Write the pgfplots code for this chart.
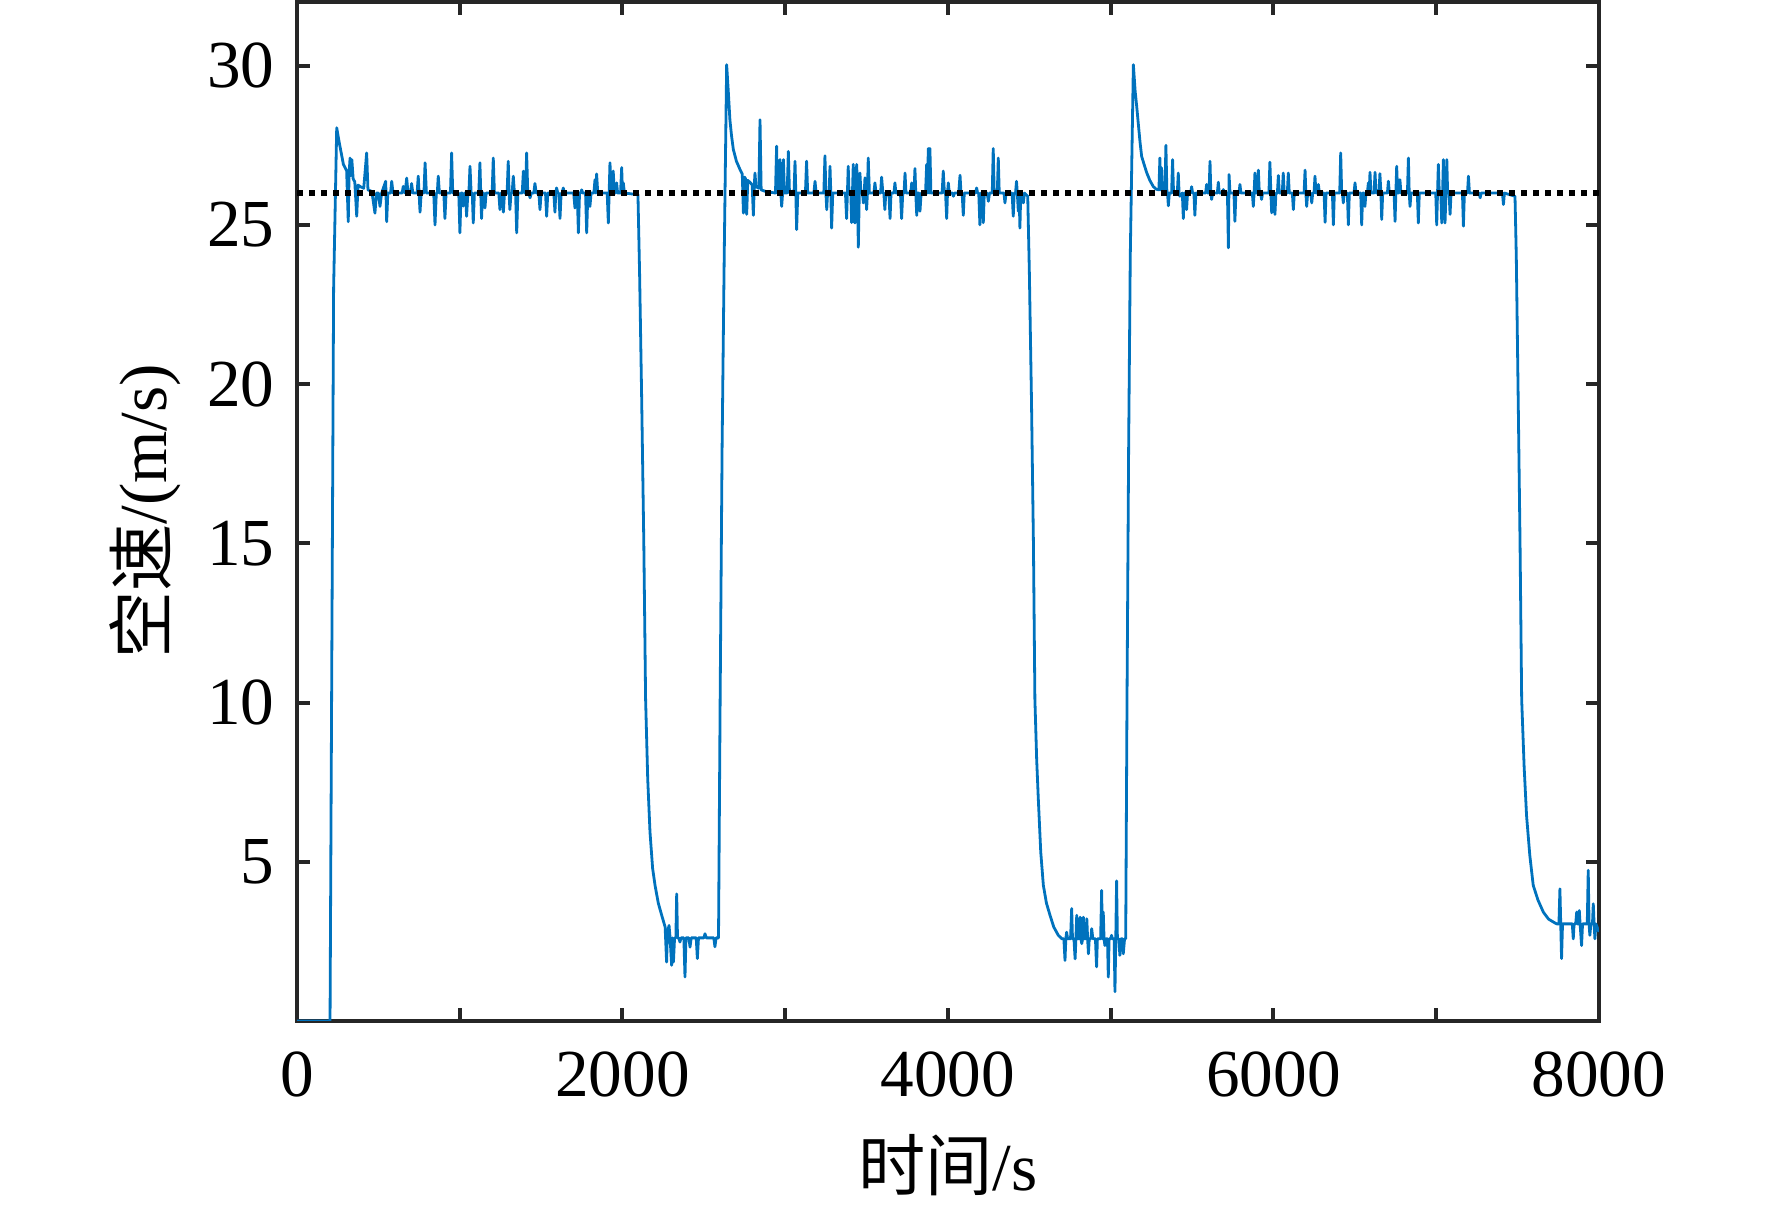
\documentclass[border=0pt]{standalone}
\usepackage{pgfplots}
\pgfplotsset{compat=1.18}
\usepackage{fontspec}
\setmainfont{Liberation Serif}
\newfontfamily\cjk{Noto Sans CJK SC}
\definecolor{mblue}{rgb}{0,0.447,0.741}
\definecolor{axgray}{rgb}{0.15,0.15,0.15}
\begin{document}
\begin{tikzpicture}
\useasboundingbox (-74.25pt,-46.25pt) rectangle (368.75pt,255.25pt);
\begin{axis}[
  scale only axis,
  width=325.5pt, height=254.75pt,
  xmin=0, xmax=8000, ymin=0, ymax=32,
  xtick={0,1000,...,8000},
  xticklabels={0,,2000,,4000,,6000,,8000},
  ytick={5,10,...,30},
  tick align=inside,
  major tick length=3.3pt,
  axis line style={axgray, line width=1pt},
  every tick/.style={axgray, line width=1pt},
  /pgf/number format/assume math mode=true,
  scaled x ticks=false,
  tick label style={font=\fontsize{16.8pt}{20pt}\selectfont, text=black},
  xticklabel style={yshift=-4.1pt},
  yticklabel style={xshift=-2.1pt},
  label style={font=\fontsize{16.8pt}{20pt}\selectfont},
  xlabel={{\cjk 时间}/s},
  ylabel={{\cjk 空速}/(m/s)},
  xlabel style={at={(axis description cs:0.5,-0.1103)}, anchor=north, inner sep=0pt},
  ylabel style={at={(axis description cs:-0.0883,0.5)}, anchor=south, inner sep=0pt},
]
\addplot[mblue, line width=0.7pt, line join=round] coordinates {
(0,0) (203,0) (225,23) (244,28.05) (259,27.6) (274,27.2) (285,26.9) (295,26.8) (305,26.7) (315,25.1) (320,26.6) (326,27.1) (331,26.55) (337,27.05) (345,26.45) (355,26.35) (367,25.27) (375,26.25) (390,26.2) (410,26.15) (428,27.26) (436,26.1) (460,26.05) (479,25.37) (488,26.0) (500,26.0) (510,25.58) (520,26.0) (545,26.37) (551,25.1) (558,26.0) (575,26.0) (582,26.37) (590,26.0) (646,26.0) (653,26.21) (664,26.0) (674,26.47) (682,26.0) (698,26.0) (704,26.3) (712,26.0) (738,26.0) (745,26.53) (750,26.0) (756,25.4) (763,26.0) (780,26.0) (787,26.95) (795,26.0) (840,26.0) (848,25.0) (856,26.0) (862,26.0) (868,26.53) (875,26.0) (902,26.0) (909,25.2) (916,26.0) (943,26.0) (950,27.26) (957,26.0) (994,26.0) (1001,24.75) (1008,26.0) (1015,26.0) (1022,25.59) (1030,26.0) (1036,26.0) (1042,25.27) (1050,26.0) (1056,26.0) (1063,26.84) (1070,26.0) (1077,26.0) (1083,25.06) (1090,26.0) (1117,26.0) (1124,26.95) (1129,26.0) (1134,25.2) (1140,26.0) (1148,26.0) (1155,25.53) (1162,26.0) (1199,26.0) (1206,27.1) (1213,26.0) (1240,26.0) (1247,25.48) (1254,26.0) (1262,26.0) (1268,25.4) (1275,26.0) (1291,26.0) (1298,27.0) (1303,26.0) (1308,25.48) (1315,26.0) (1322,26.0) (1329,26.53) (1336,26.0) (1343,26.0) (1350,24.75) (1357,26.0) (1384,26.0) (1391,26.69) (1398,26.0) (1404,26.0) (1411,27.26) (1418,26.0) (1425,26.0) (1432,25.85) (1440,26.0) (1455,26.0) (1462,26.3) (1470,26.0) (1486,26.0) (1493,25.48) (1500,26.0) (1527,26.0) (1534,25.27) (1541,26.0) (1578,26.0) (1585,25.4) (1590,26.0) (1595,26.16) (1603,26.0) (1609,26.0) (1616,25.2) (1623,26.0) (1629,26.0) (1636,26.16) (1643,26.0) (1700,26.0) (1708,25.53) (1715,26.0) (1722,26.0) (1729,24.75) (1736,26.0) (1742,26.0) (1749,26.1) (1756,26.0) (1773,26.0) (1780,24.75) (1787,26.0) (1793,26.0) (1800,25.58) (1807,26.0) (1824,26.0) (1831,26.42) (1836,26.0) (1841,26.6) (1848,26.0) (1906,26.0) (1913,25.06) (1918,26.0) (1923,26.95) (1930,26.2) (1936,26.0) (1943,26.69) (1950,26.0) (1957,26.0) (1964,26.32) (1970,26.0) (1988,26.0) (1995,26.8) (2000,26.0) (2005,26.32) (2012,26.0) (2095,25.95) (2105,23.5) (2118,19.5) (2131,15.0) (2142,10.1) (2155,7.6) (2169,5.93) (2185,4.8) (2200,4.26) (2220,3.7) (2241,3.32) (2262,2.95) (2271,1.85) (2276,2.75) (2286,3.0) (2292,2.64) (2302,1.75) (2307,2.61) (2313,1.85) (2320,2.61) (2328,2.61) (2333,3.99) (2338,2.61) (2346,2.61) (2353,2.48) (2360,2.61) (2377,2.61) (2384,1.38) (2390,2.61) (2408,2.61) (2415,2.32) (2422,2.61) (2453,2.61) (2460,1.96) (2467,2.61) (2500,2.61) (2507,2.74) (2515,2.61) (2561,2.61) (2568,2.33) (2575,2.61) (2590,2.61) (2600,10.1) (2612,18.0) (2625,24.0) (2640,30.03) (2650,29.2) (2660,28.3) (2670,27.8) (2681,27.37) (2700,27.0) (2722,26.74) (2736,26.6) (2743,25.37) (2750,26.5) (2756,26.45) (2763,25.33) (2770,26.4) (2790,26.3) (2797,26.25) (2804,25.3) (2810,26.25) (2814,26.63) (2820,26.2) (2838,26.15) (2845,28.3) (2852,26.1) (2880,26.05) (2940,26.0) (2947,27.47) (2952,26.0) (2962,26.0) (2968,27.05) (2973,26.0) (2978,25.58) (2984,26.0) (2989,27.05) (2995,26.0) (3012,26.0) (3019,27.31) (3026,26.0) (3054,26.0) (3060,27.0) (3065,26.0) (3070,24.85) (3077,26.0) (3124,26.0) (3131,27.0) (3138,26.0) (3176,26.0) (3183,26.37) (3190,26.0) (3237,26.0) (3244,27.17) (3250,26.0) (3255,25.48) (3260,26.0) (3270,26.0) (3275,26.84) (3280,26.0) (3285,24.9) (3292,26.0) (3370,26.0) (3377,25.2) (3382,26.0) (3387,26.84) (3392,26.0) (3403,26.0) (3408,25.07) (3413,26.0) (3418,26.9) (3423,26.0) (3428,25.06) (3433,26.0) (3439,26.9) (3444,26.0) (3449,24.3) (3455,26.0) (3459,26.63) (3465,26.0) (3475,26.0) (3480,25.69) (3485,26.0) (3490,26.48) (3495,26.0) (3500,25.48) (3505,26.0) (3510,27.1) (3517,26.0) (3545,26.0) (3551,26.32) (3558,26.0) (3586,26.0) (3592,26.5) (3600,26.0) (3606,26.0) (3612,25.48) (3618,26.0) (3637,26.0) (3644,25.2) (3650,26.0) (3668,26.0) (3674,26.32) (3680,26.0) (3708,26.0) (3715,25.2) (3722,26.0) (3730,26.0) (3736,26.63) (3742,26.0) (3771,26.0) (3777,26.32) (3783,26.0) (3791,26.0) (3797,26.77) (3802,26.0) (3808,25.3) (3813,26.0) (3822,26.0) (3828,25.43) (3835,26.0) (3862,26.0) (3869,26.9) (3874,26.0) (3879,27.4) (3884,26.0) (3889,27.4) (3895,26.0) (3964,26.0) (3971,26.69) (3978,26.0) (3985,26.0) (3992,25.2) (3997,26.0) (4002,26.32) (4008,26.0) (4027,26.0) (4033,25.9) (4040,26.0) (4066,26.0) (4074,26.56) (4080,26.0) (4087,26.0) (4094,25.3) (4100,26.0) (4169,26.0) (4176,26.16) (4182,26.0) (4189,26.0) (4196,25.0) (4202,26.0) (4210,26.0) (4217,25.07) (4223,26.0) (4241,26.0) (4248,25.74) (4255,26.0) (4272,26.0) (4278,27.4) (4284,26.0) (4303,26.0) (4309,27.1) (4315,26.0) (4344,26.0) (4350,25.69) (4357,26.0) (4394,26.0) (4401,25.27) (4407,26.0) (4415,26.0) (4421,26.37) (4426,26.0) (4432,25.43) (4437,26.0) (4442,24.9) (4447,26.0) (4456,26.0) (4463,25.69) (4470,26.0) (4490,25.9) (4500,23.5) (4513,19.5) (4525,15.0) (4534,10.1) (4545,8.2) (4555,6.97) (4570,5.3) (4586,4.26) (4605,3.7) (4627,3.32) (4650,2.95) (4678,2.69) (4700,2.58) (4712,2.58) (4719,1.9) (4724,2.58) (4729,2.79) (4735,2.58) (4753,2.58) (4760,3.53) (4765,2.58) (4774,2.58) (4781,1.95) (4786,2.58) (4791,3.32) (4797,2.58) (4806,2.58) (4812,3.26) (4817,2.58) (4822,2.43) (4827,2.58) (4832,3.26) (4837,2.58) (4847,2.58) (4853,3.21) (4858,2.58) (4863,2.11) (4868,2.58) (4878,2.58) (4883,2.9) (4890,2.58) (4906,2.58) (4913,1.7) (4918,2.58) (4938,2.58) (4944,4.1) (4949,2.58) (4954,3.42) (4959,2.58) (4964,2.37) (4970,2.58) (4980,2.58) (4985,1.38) (4990,2.58) (5000,2.58) (5005,2.69) (5010,2.58) (5021,2.58) (5026,0.92) (5031,2.58) (5036,4.4) (5041,2.58) (5050,2.58) (5056,2.06) (5062,2.58) (5072,2.58) (5077,2.11) (5085,2.58) (5092,2.58) (5100,10.1) (5110,18.0) (5120,24.0) (5139,30.03) (5150,29.2) (5160,28.7) (5169,28.2) (5180,27.6) (5190,27.15) (5205,26.9) (5221,26.64) (5240,26.4) (5262,26.2) (5280,26.12) (5296,26.1) (5302,27.1) (5307,26.1) (5312,26.79) (5318,26.08) (5333,26.05) (5339,27.5) (5345,26.05) (5349,26.0) (5354,25.6) (5360,26.0) (5374,26.0) (5380,27.05) (5386,26.0) (5409,26.0) (5415,26.63) (5420,26.0) (5425,25.9) (5440,26.0) (5446,25.2) (5452,26.0) (5460,26.0) (5466,25.48) (5472,26.0) (5491,26.0) (5497,26.2) (5503,26.0) (5511,26.0) (5517,25.3) (5523,26.0) (5583,26.0) (5589,26.27) (5595,26.0) (5604,26.0) (5610,27.0) (5615,26.0) (5620,25.8) (5626,26.0) (5655,26.0) (5661,26.34) (5667,26.0) (5686,26.0) (5692,26.11) (5698,26.0) (5717,26.0) (5723,24.28) (5727,26.58) (5733,26.0) (5757,26.0) (5763,25.11) (5769,26.0) (5788,26.0) (5794,26.27) (5800,26.0) (5870,26.0) (5876,25.58) (5881,26.0) (5886,26.63) (5892,26.0) (5901,26.0) (5907,26.72) (5913,26.0) (5921,26.0) (5927,25.8) (5933,26.0) (5972,26.0) (5978,26.97) (5984,26.0) (5989,25.38) (5995,26.0) (6003,26.0) (6009,25.33) (6015,26.0) (6024,26.0) (6030,26.55) (6036,26.0) (6054,26.0) (6060,26.63) (6066,26.0) (6085,26.0) (6091,26.63) (6097,26.0) (6116,26.0) (6122,25.48) (6128,26.0) (6188,26.0) (6194,26.72) (6199,26.0) (6204,25.58) (6210,26.0) (6229,26.0) (6235,25.69) (6241,26.0) (6249,26.0) (6255,26.53) (6261,26.0) (6270,26.0) (6276,26.27) (6282,26.0) (6311,26.0) (6317,25.08) (6323,26.0) (6362,26.0) (6368,25.0) (6374,26.0) (6407,26.0) (6413,27.26) (6419,26.0) (6424,26.0) (6429,25.69) (6435,26.0) (6454,26.0) (6460,25.0) (6466,26.0) (6495,26.0) (6501,26.32) (6507,26.0) (6536,26.0) (6542,25.0) (6548,26.0) (6556,26.0) (6562,25.58) (6568,26.0) (6577,26.0) (6583,26.32) (6588,26.0) (6593,26.65) (6599,26.0) (6618,26.0) (6624,26.65) (6630,26.0) (6648,26.0) (6654,26.61) (6660,26.0) (6665,25.17) (6671,26.0) (6700,26.0) (6706,26.37) (6712,26.0) (6741,26.0) (6747,25.11) (6752,26.0) (6757,26.84) (6763,26.0) (6771,26.0) (6777,26.42) (6783,26.0) (6823,26.0) (6829,27.1) (6834,26.0) (6839,25.58) (6845,26.0) (6884,26.0) (6890,25.06) (6896,26.0) (6997,26.0) (7003,25.0) (7008,26.0) (7013,26.9) (7019,26.0) (7028,26.0) (7034,25.06) (7039,26.0) (7044,27.05) (7049,26.0) (7054,25.06) (7060,26.0) (7065,27.05) (7070,26.0) (7079,26.0) (7085,25.33) (7091,26.0) (7161,26.0) (7167,24.96) (7173,26.0) (7192,26.0) (7198,26.53) (7204,26.0) (7264,26.0) (7270,25.85) (7276,26.0) (7407,26.0) (7413,25.64) (7419,26.0) (7484,25.9) (7492,24.0) (7505,19.0) (7515,15.0) (7525,10.1) (7540,8.0) (7555,6.45) (7575,5.2) (7596,4.26) (7625,3.8) (7658,3.42) (7690,3.2) (7719,3.11) (7740,3.05) (7754,3.05) (7760,4.15) (7765,3.05) (7770,1.96) (7776,3.05) (7836,3.05) (7842,2.58) (7847,3.05) (7857,3.05) (7863,3.42) (7868,3.05) (7874,3.05) (7879,3.47) (7884,3.05) (7893,2.37) (7899,3.05) (7928,3.05) (7934,4.73) (7939,3.05) (7944,2.69) (7950,3.05) (7960,3.05) (7965,3.68) (7970,3.05) (7975,2.58) (7981,3.05) (8000,2.8)
};
\addplot[black, line width=1.4pt, dash pattern=on 1.5pt off 1.5pt] coordinates {(0,26) (8000,26)};
\end{axis}
\end{tikzpicture}
\end{document}
